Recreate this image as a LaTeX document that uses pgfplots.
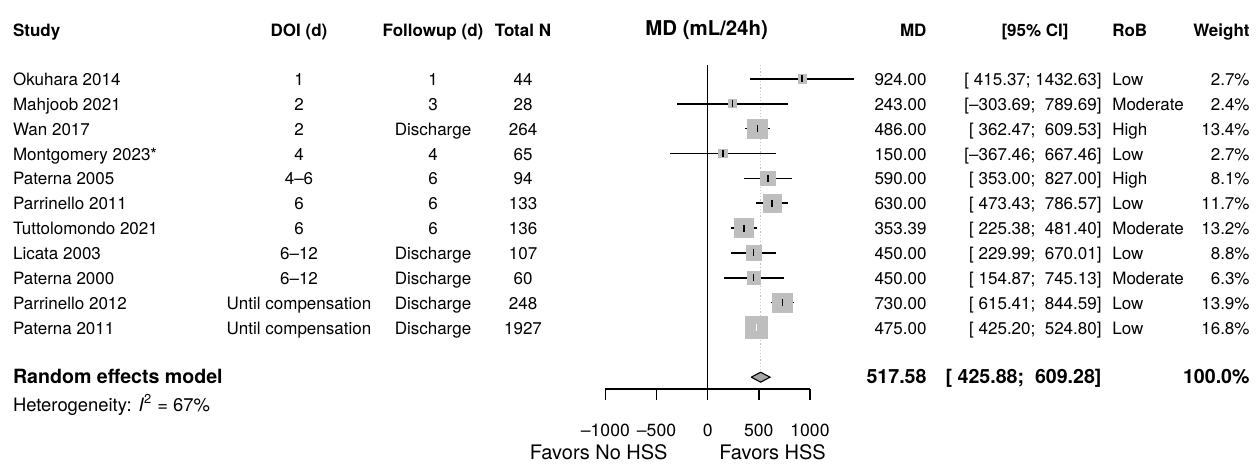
\documentclass[border=0pt]{standalone}
\usepackage{fontspec}
\setmainfont{TeX Gyre Heros}
\usepackage{pgfplots}
\usepackage{pgfplotstable}
\pgfplotsset{compat=1.18}

\definecolor{boxgray}{HTML}{BEBEBE}
\definecolor{diagray}{HTML}{A6A6A6}
\definecolor{dotgray}{HTML}{C4C4C4}

% y = -row, md, CI bounds, weight (%)
\pgfplotstableread{
y    md      lo       hi       w
-1   924.00  415.37   1432.63  2.7
-2   243.00  -303.69  789.69   2.4
-3   486.00  362.47   609.53   13.4
-4   150.00  -367.46  667.46   2.7
-5   590.00  353.00   827.00   8.1
-6   630.00  473.43   786.57   11.7
-7   353.39  225.38   481.40   13.2
-8   450.00  229.99   670.01   8.8
-9   450.00  154.87   745.13   6.3
-10  730.00  615.41   844.59   13.9
-11  475.00  425.20   524.80   16.8
}\studies

\tikzset{
  lab/.style={inner sep=0pt, text height=1.5ex, text depth=.25ex, anchor=center,
    font=\fontsize{8.5}{10}\selectfont},
  hdr/.style={lab, font=\fontsize{8.5}{10}\selectfont\bfseries},
  sumlab/.style={lab, font=\fontsize{9.8}{11}\selectfont\bfseries},
}

% row: y, study, DOI, followup, N, MD, CI, RoB, weight
\newcommand{\srow}[9]{%
  \node[lab,anchor=west] at (axis cs:-6794,#1) {#2};
  \node[lab] at (axis cs:-3995,#1) {#3};
  \node[lab] at (axis cs:-2685,#1) {#4};
  \node[lab] at (axis cs:-1805,#1) {#5};
  \node[lab,anchor=east] at (axis cs:2143,#1) {#6};
  \node[lab,anchor=east] at (axis cs:3854,#1) {#7};
  \node[lab,anchor=west] at (axis cs:3952,#1) {#8};
  \node[lab,anchor=east] at (axis cs:5301,#1) {#9};}

\begin{document}
\begin{tikzpicture}
\begin{axis}[
  x=0.05115pt, y=12.425pt,
  xmin=-1000, xmax=1000, ymin=-13.47, ymax=-0.437,
  axis x line*=bottom, axis y line=none,
  clip=false,
  xtick={-1000,-500,0,500,1000},
  xticklabels={–1000,–500,0,500,1000},
  ytick=\empty,
  tick align=outside, tick pos=lower,
  major tick length=5.75pt,
  tick style={black, line width=0.7pt},
  axis line style={black, line width=0.7pt},
  xticklabel style={font=\fontsize{8.8}{10}\selectfont, yshift=-8.3pt},
]
% invisible frame giving the picture its size
\path (axis cs:-6918,2.179) rectangle (axis cs:5360,-16.69);

% line of no effect and pooled estimate
\addplot[black, line width=0.7pt] coordinates {(0,-0.437) (0,-13.47)};
\addplot[dotgray, densely dotted, line width=0.6pt] coordinates {(517.58,-0.437) (517.58,-12.8)};

% weight boxes
\addplot[scatter, only marks, mark=square*,
  scatter/use mapped color={draw=boxgray, fill=boxgray},
  visualization depends on={1.3*sqrt(\thisrow{w}) \as \msz},
  scatter/@pre marker code/.append style={/tikz/mark size=\msz pt, /tikz/line width=0pt}]
  table[x=md, y=y] {\studies};

% confidence intervals
\addplot[black, only marks, mark=|, mark size=1.75pt, line width=0.75pt,
  skip coords between index={10}{11},
  error bars/.cd, x dir=both, x explicit, error mark=none,
  error bar style={black, line width=0.75pt}]
  table[x=md, y=y, x error plus expr={\thisrow{hi}-\thisrow{md}},
        x error minus expr={\thisrow{md}-\thisrow{lo}}] {\studies};
\addplot[white, only marks, mark=|, mark size=1.75pt, line width=0.75pt,
  skip coords between index={0}{10},
  error bars/.cd, x dir=both, x explicit, error mark=none,
  error bar style={white, line width=0.75pt}]
  table[x=md, y=y, x error plus expr={\thisrow{hi}-\thisrow{md}},
        x error minus expr={\thisrow{md}-\thisrow{lo}}] {\studies};

% random effects diamond
\addplot[fill=diagray, draw=black, line width=0.55pt] coordinates
  {(425.88,-13) (517.58,-12.8) (609.28,-13) (517.58,-13.2) (425.88,-13)};

% headers
\node[hdr,anchor=west] at (axis cs:-6794,0.97) {Study};
\node[hdr] at (axis cs:-3995,0.97) {DOI (d)};
\node[hdr] at (axis cs:-2685,0.97) {Followup (d)};
\node[hdr] at (axis cs:-1805,0.97) {Total N};
\node[lab, font=\fontsize{10.2}{12}\selectfont\bfseries] at (axis cs:-10,1.0) {MD (mL/24h)};
\node[hdr,anchor=east] at (axis cs:2143,0.97) {MD};
\node[hdr] at (axis cs:3200,0.97) {[95\% CI]};
\node[hdr,anchor=west] at (axis cs:3952,0.97) {RoB};
\node[hdr,anchor=east] at (axis cs:5301,0.97) {Weight};

\srow{-1}{Okuhara 2014}{1}{1}{44}{924.00}{[\ 415.37;\ 1432.63]}{Low}{2.7\%}
\srow{-2}{Mahjoob 2021}{2}{3}{28}{243.00}{[–303.69;\ \ 789.69]}{Moderate}{2.4\%}
\srow{-3}{Wan 2017}{2}{Discharge}{264}{486.00}{[\ 362.47;\ \ 609.53]}{High}{13.4\%}
\srow{-4}{Montgomery 2023*}{4}{4}{65}{150.00}{[–367.46;\ \ 667.46]}{Low}{2.7\%}
\srow{-5}{Paterna 2005}{4–6}{6}{94}{590.00}{[\ 353.00;\ \ 827.00]}{High}{8.1\%}
\srow{-6}{Parrinello 2011}{6}{6}{133}{630.00}{[\ 473.43;\ \ 786.57]}{Low}{11.7\%}
\srow{-7}{Tuttolomondo 2021}{6}{6}{136}{353.39}{[\ 225.38;\ \ 481.40]}{Moderate}{13.2\%}
\srow{-8}{Licata 2003}{6–12}{Discharge}{107}{450.00}{[\ 229.99;\ \ 670.01]}{Low}{8.8\%}
\srow{-9}{Paterna 2000}{6–12}{Discharge}{60}{450.00}{[\ 154.87;\ \ 745.13]}{Moderate}{6.3\%}
\srow{-10}{Parrinello 2012}{Until compensation}{Discharge}{248}{730.00}{[\ 615.41;\ \ 844.59]}{Low}{13.9\%}
\srow{-11}{Paterna 2011}{Until compensation}{Discharge}{1927}{475.00}{[\ 425.20;\ \ 524.80]}{Low}{16.8\%}

% summary
\node[sumlab,anchor=west] at (axis cs:-6794,-13) {Random effects model};
\node[sumlab,anchor=east] at (axis cs:2143,-13) {517.58};
\node[sumlab,anchor=east] at (axis cs:3854,-13) {[\ 425.88;\ \ 609.28]};
\node[sumlab,anchor=east] at (axis cs:5301,-13) {100.0\%};
\node[lab,anchor=west,font=\fontsize{9.2}{11}\selectfont] at (axis cs:-6794,-14.1)
  {Heterogeneity: \textit{I}\textsuperscript{2} = 67\%};

% direction labels
\node[lab,anchor=east,font=\fontsize{10}{12}\selectfont] at (axis cs:-388,-16.05) {Favors No HSS};
\node[lab,anchor=west,font=\fontsize{10}{12}\selectfont] at (axis cs:110,-16.05) {Favors HSS};
\end{axis}
\end{tikzpicture}
\end{document}
